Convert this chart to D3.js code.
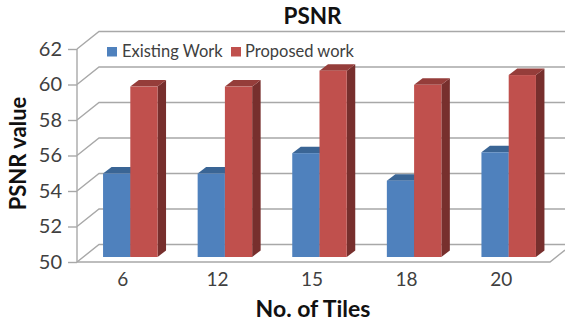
<!DOCTYPE html>
<html>
<head>
<meta charset="utf-8">
<script src="https://cdn.jsdelivr.net/npm/d3@7/dist/d3.min.js"></script>
<style>
  html, body { margin: 0; padding: 0; background: #fff; }
  svg { display: block; }
  text { font-family: Lato, "Open Sans", sans-serif; }
</style>
</head>
<body>
<div id="chart"></div>
<script>
const categories = ["6", "12", "15", "18", "20"];
const seriesNames = ["Existing Work", "Proposed work"];
const existingWork = [54.7, 54.7, 55.85, 54.3, 55.9];
const proposedWork = [59.6, 59.6, 60.5, 59.7, 60.25];
const yTicks = [50, 52, 54, 56, 58, 60, 62];

const width = 565, height = 324;
const wall = { dx: 22, dy: 17.5 };   // depth of the chart box
const barDepth = { dx: 8.5, dy: 6.5 };
const barShift = { dx: 6, dy: 5 };   // bars stand partway back on the floor

const x = d3.scaleBand().domain(categories).range([77, 550]);
const barX = d3.scaleBand().domain(seriesNames).range([0, 54.5]);
const y = d3.scaleLinear().domain([50, 62]).range([262, 49]);

const frontFill = ["#4f81bd", "#c0504d"];
const topFill = ["#3a6595", "#953d3a"];
const sideFill = ["#335a86", "#772f2d"];
const gridColor = "#a8a8a8";
const labelColor = "#404040";

const svg = d3.select("#chart").append("svg")
  .attr("width", width).attr("height", height);

// Back wall gridlines and their slanted returns along the left wall
const grid = svg.append("g").attr("fill", "none")
  .attr("stroke", gridColor).attr("stroke-width", 1.4);
yTicks.forEach(t => {
  const path = d3.path();
  path.moveTo(x.range()[0], y(t));
  path.lineTo(x.range()[0] + wall.dx, y(t) - wall.dy);
  path.lineTo(width, y(t) - wall.dy);
  grid.append("path").attr("d", path.toString());
});

// Floor edge and right-hand return
const floor = d3.path();
floor.moveTo(x.range()[0], y(50));
floor.lineTo(x.range()[1], y(50));
floor.lineTo(x.range()[1] + 15, y(50) - 12);
grid.append("path").attr("d", floor.toString());

// Left axis with ticks and labels
const yAxis = d3.axisLeft(y).tickValues(yTicks).tickSize(9).tickPadding(6);
const yG = svg.append("g").attr("transform", `translate(${x.range()[0]},0)`).call(yAxis);
yG.selectAll("path, line").attr("stroke", gridColor).attr("stroke-width", 1.4);
yG.select(".domain").attr("d", `M0,${y(62)}V${y(50)}`);
yG.selectAll("text").attr("fill", labelColor).style("font-size", "20px")
  .style("font-family", "Lato, sans-serif");

// Category labels below the floor
const xAxis = d3.axisBottom(x).tickSize(0).tickPadding(0);
const xG = svg.append("g").attr("transform", `translate(-1.5,272)`).call(xAxis);
xG.select(".domain").remove();
xG.selectAll("text").attr("fill", labelColor).style("font-size", "19px")
  .style("font-family", "Lato, sans-serif");

// Extruded bars: front face, top and right side for each series
const baseY = y(50) - barShift.dy;
const unit = y(50) - y(51);
const valueY = v => baseY - (v - 50) * unit;

[existingWork, proposedWork].forEach((values, s) => {
  const name = seriesNames[s];
  const group = svg.append("g");
  values.forEach((v, i) => {
    const x0 = x(categories[i]) + x.bandwidth() / 2 + barShift.dx - barX.range()[1] / 2 + barX(name);
    const x1 = x0 + barX.bandwidth();
    const top = valueY(v);
    const dx = barDepth.dx, dy = barDepth.dy;
    group.append("polygon").attr("fill", sideFill[s])
      .attr("points", [[x1, top], [x1 + dx, top - dy], [x1 + dx, baseY - dy], [x1, baseY]].join(" "));
    group.append("polygon").attr("fill", topFill[s])
      .attr("points", [[x0, top], [x0 + dx, top - dy], [x1 + dx, top - dy], [x1, top]].join(" "));
    group.append("rect").attr("fill", frontFill[s])
      .attr("x", x0).attr("y", top).attr("width", barX.bandwidth()).attr("height", baseY - top);
  });
});

// Legend inside the top of the chart box
const legendItems = [{ swatch: 107, label: 122 }, { swatch: 231, label: 245 }];
seriesNames.forEach((name, s) => {
  svg.append("rect").attr("x", legendItems[s].swatch).attr("y", 47)
    .attr("width", 10).attr("height", 9.5).attr("fill", frontFill[s]);
  svg.append("text").attr("x", legendItems[s].label).attr("y", 57)
    .attr("fill", labelColor).style("font-size", "16.5px").text(name);
});

// Titles
svg.append("text").attr("x", 312.5).attr("y", 24).attr("text-anchor", "middle")
  .attr("fill", "#111").style("font-size", "22.5px").style("font-weight", 700).text("PSNR");
svg.append("text").attr("transform", "translate(25.5,153.5) rotate(-90)").attr("text-anchor", "middle")
  .attr("fill", "#111").style("font-size", "22px").style("font-weight", 700).text("PSNR value");
svg.append("text").attr("x", 313).attr("y", 317).attr("text-anchor", "middle")
  .attr("fill", "#111").style("font-size", "23px").style("font-weight", 700).text("No. of Tiles");
</script>
</body>
</html>
